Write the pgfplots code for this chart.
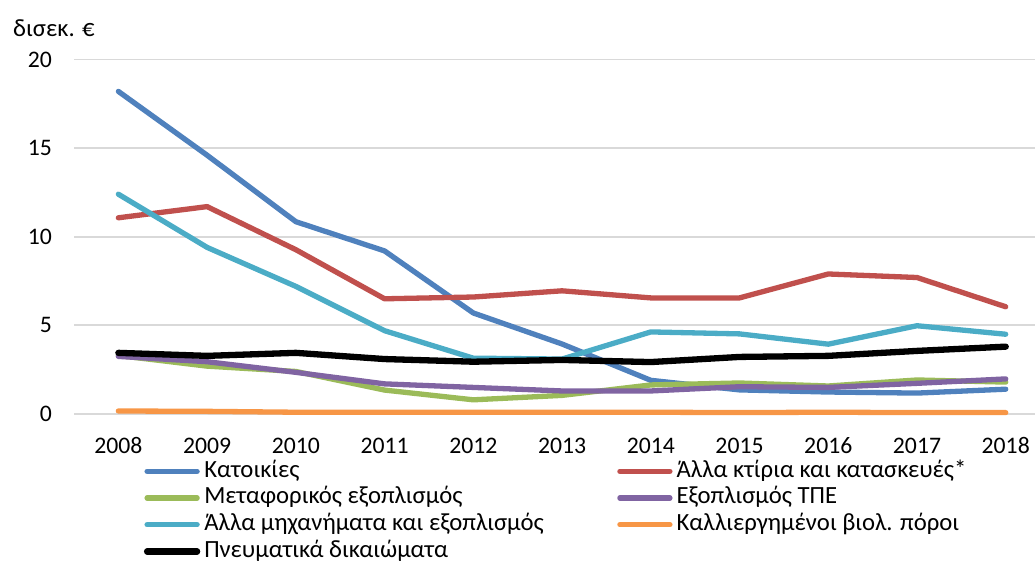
\documentclass[border=0pt]{standalone}
\usepackage{pgfplots}
\pgfplotsset{compat=1.18}
\usepackage{fontspec}
\setmainfont{Carlito}
\definecolor{cBlue}{HTML}{4F81BD}
\definecolor{cRed}{HTML}{C0504D}
\definecolor{cGreen}{HTML}{9BBB59}
\definecolor{cPurple}{HTML}{8064A2}
\definecolor{cCyan}{HTML}{4BACC6}
\definecolor{cOrange}{HTML}{F79646}
\definecolor{cGrid}{HTML}{D9D9D9}
\newcommand{\cf}{\fontsize{23.7}{28}\selectfont}
\newcommand{\lf}{\fontsize{24.7}{29}\selectfont}
\begin{document}
\begin{tikzpicture}
\useasboundingbox (0,0) rectangle (1035pt,563pt);
\node[anchor=west, inner sep=0pt, font=\lf] at (13pt,535pt) {δισεκ. €};
\begin{axis}[
  at={(74pt,149pt)}, anchor=south west,
  scale only axis, width=961pt, height=354.5pt,
  xmin=2007.5, xmax=2018.33, ymin=0, ymax=20,
  xtick={2008,2009,2010,2011,2012,2013,2014,2015,2016,2017,2018},
  ytick={0,5,10,15,20},
  /pgf/number format/assume math mode=true,
  /pgf/number format/1000 sep={},
  ymajorgrids, grid style={cGrid, line width=1.8pt},
  axis line style={draw=none}, tick style={draw=none},
  ticklabel style={font=\cf},
  yticklabel style={anchor=east, inner sep=0pt, xshift=-22pt},
  xticklabel style={anchor=north, inner sep=0pt, yshift=-23.5pt},
  clip=false,
  every axis plot/.append style={line width=5.3pt, line join=round, line cap=round},
  legend columns=2,
  legend cell align=left,
  legend image code/.code={\draw[#1] (2.5pt,0pt) -- (52.5pt,0pt);},
  legend style={
    at={(axis description cs:0.0728,-0.1299)}, anchor=north west,
    draw=none, fill=none, inner sep=0pt, outer sep=0pt,
    font=\lf, row sep=4.2pt, column sep=0pt,
    nodes={inner sep=0pt, text height=17pt, text depth=5.5pt},
    /tikz/every odd column/.append style={column sep=4pt},
  },
]
\addplot[cBlue] coordinates {(2008,18.2) (2009,14.6) (2010,10.85) (2011,9.2) (2012,5.7) (2013,3.95) (2014,1.9) (2015,1.36) (2016,1.24) (2017,1.18) (2018,1.4)};
\addlegendentry{\makebox[413pt][l]{Κατοικίες}}
\addplot[cRed] coordinates {(2008,11.07) (2009,11.7) (2010,9.27) (2011,6.5) (2012,6.6) (2013,6.95) (2014,6.55) (2015,6.55) (2016,7.9) (2017,7.7) (2018,6.05)};
\addlegendentry{Άλλα κτίρια και κατασκευές*}
\addplot[cGreen] coordinates {(2008,3.3) (2009,2.7) (2010,2.4) (2011,1.35) (2012,0.8) (2013,1.05) (2014,1.64) (2015,1.75) (2016,1.58) (2017,1.92) (2018,1.8)};
\addlegendentry{\makebox[413pt][l]{Μεταφορικός εξοπλισμός}}
\addplot[cPurple] coordinates {(2008,3.25) (2009,2.95) (2010,2.35) (2011,1.7) (2012,1.5) (2013,1.3) (2014,1.3) (2015,1.54) (2016,1.5) (2017,1.73) (2018,1.98)};
\addlegendentry{Εξοπλισμός ΤΠΕ}
\addplot[cCyan] coordinates {(2008,12.4) (2009,9.4) (2010,7.2) (2011,4.7) (2012,3.15) (2013,3.1) (2014,4.63) (2015,4.52) (2016,3.94) (2017,4.98) (2018,4.5)};
\addlegendentry{\makebox[413pt][l]{Άλλα μηχανήματα και εξοπλισμός}}
\addplot[cOrange] coordinates {(2008,0.17) (2009,0.15) (2010,0.1) (2011,0.1) (2012,0.1) (2013,0.1) (2014,0.1) (2015,0.08) (2016,0.1) (2017,0.08) (2018,0.08)};
\addlegendentry{Καλλιεργημένοι βιολ. πόροι}
\addplot[black, line width=6.3pt] coordinates {(2008,3.45) (2009,3.28) (2010,3.45) (2011,3.1) (2012,2.95) (2013,3.05) (2014,2.93) (2015,3.22) (2016,3.28) (2017,3.56) (2018,3.8)};
\addlegendentry{\makebox[413pt][l]{Πνευματικά δικαιώματα}}
\end{axis}
\end{tikzpicture}
\end{document}
